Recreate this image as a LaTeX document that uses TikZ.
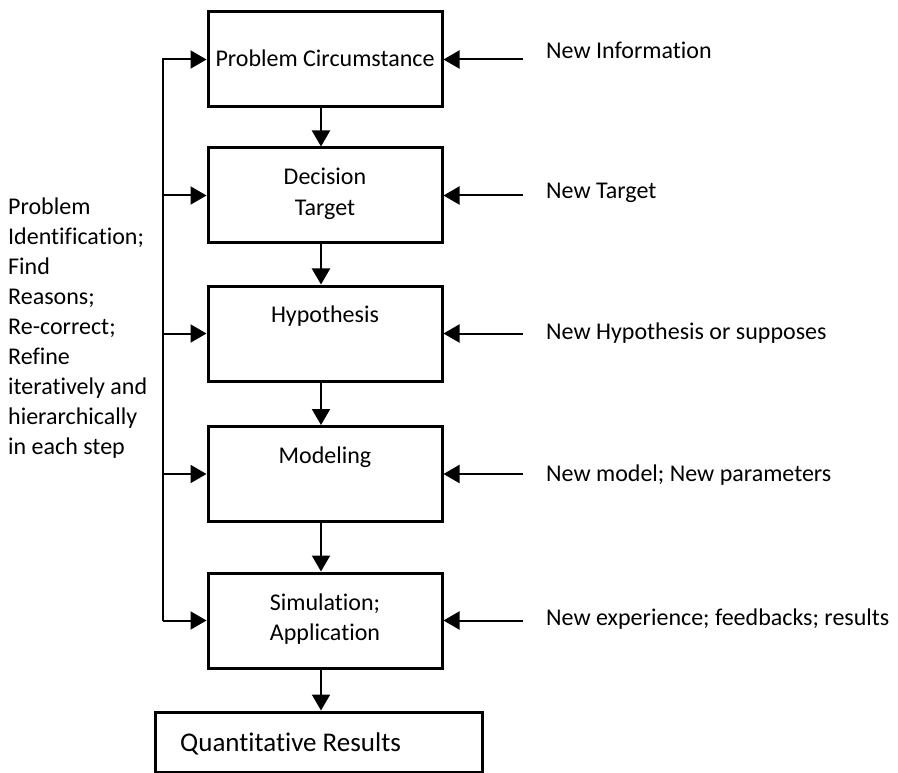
\documentclass[tikz,border=0pt]{standalone}
\usepackage{fontspec}
\setmainfont{Carlito}[Ligatures=NoCommon]
\usetikzlibrary{arrows.meta}
\begin{document}
\begin{tikzpicture}[x=1pt,y=-1pt,
  stepbox/.style={draw,line width=3pt,inner sep=0pt,minimum width=234pt,minimum height=95pt},
  arr/.style={line width=2pt,-{Triangle[length=16pt,width=18pt]}},
  lbl/.style={inner sep=0pt,font=\fontsize{24}{30}\selectfont}]
\useasboundingbox (0,0) rectangle (898,773);
\clip (0,0) rectangle (898,773);

% main chain of steps
\node[stepbox] (b1) at (325,59.5) {};
\node[stepbox] (b2) at (325,195.5) {};
\node[stepbox] (b3) at (325,333.5) {};
\node[stepbox] (b4) at (325,474) {};
\node[stepbox] (b5) at (325,620.5) {};
\node[draw,line width=3pt,inner sep=0pt,minimum width=327pt,minimum height=60pt] (b6) at (318.5,742) {};

% texts inside the boxes
\node[lbl,anchor=base] (t1) at (325,67) {Problem Circumstance};
\node[lbl,anchor=base] (t2a) at (325,185) {Decision};
\node[lbl,anchor=base] (t2b) at (325,215) {Target};
\node[lbl,anchor=base] (t3) at (325,322) {Hypothesis};
\node[lbl,anchor=base] (t4) at (325,463) {Modeling};
\node[lbl,anchor=base] (t5a) at (325,610) {Simulation;};
\node[lbl,anchor=base] (t5b) at (325,640) {Application};
\node[lbl,anchor=base west,font=\fontsize{27}{32}\selectfont] (t6) at (180,751) {Quantitative Results};

% downward flow
\coordinate (ax) at (321,0);
\draw[arr] (b1.south -| ax) -- (b2.north -| ax);
\draw[arr] (b2.south -| ax) -- (b3.north -| ax);
\draw[arr] (b3.south -| ax) -- (b4.north -| ax);
\draw[arr] (b4.south -| ax) -- (b5.north -| ax);
\draw[arr] (b5.south -| ax) -- (b6.north -| ax);

% feedback bus on the left
\coordinate (lx) at (163,0);
\draw[arr] (lx |- b5) -- (lx |- b1) -- (b1.west);
\draw[arr] (lx |- b2) -- (b2.west);
\draw[arr] (lx |- b3) -- (b3.west);
\draw[arr] (lx |- b4) -- (b4.west);
\draw[arr] (lx |- b5) -- (b5.west);

% the base anchor of this block sits on its last line
\node[lbl,anchor=base west,align=left] (left) at (8,454)
  {Problem\\Identification;\\Find\\Reasons;\\Re-correct;\\Refine\\iteratively and\\hierarchically\\in each step};

% inputs from the right
\coordinate (rx) at (523,0);
\draw[arr] (rx |- b1) -- (b1.east);
\draw[arr] (rx |- b2) -- (b2.east);
\draw[arr] (rx |- b3) -- (b3.east);
\draw[arr] (rx |- b4) -- (b4.east);
\draw[arr] (rx |- b5) -- (b5.east);

\node[lbl,anchor=base west] (r1) at (546,59) {New Information};
\node[lbl,anchor=base west] (r2) at (546,199) {New Target};
\node[lbl,anchor=base west] (r3) at (546,339) {New Hypothesis or supposes};
\node[lbl,anchor=base west] (r4) at (546,481) {New model; New parameters};
\node[lbl,anchor=base west] (r5) at (546,625) {New experience; feedbacks; results};
\end{tikzpicture}
\end{document}
